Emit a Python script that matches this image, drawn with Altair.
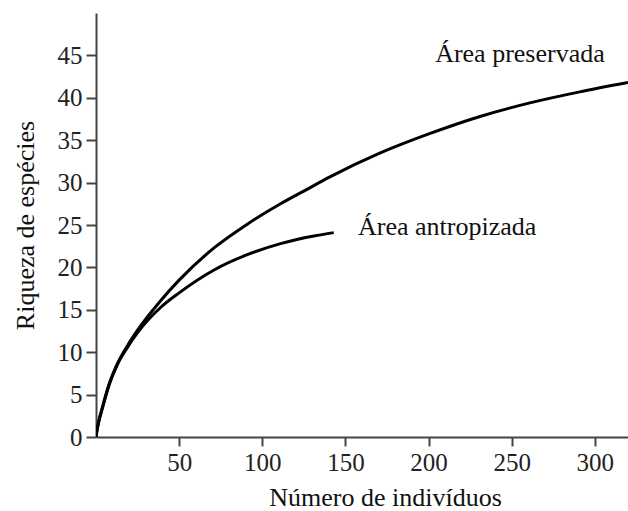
import altair as alt
import pandas as pd

# Curve readings (número de indivíduos, riqueza de espécies)
pres_x = [0, 1, 4, 8, 13, 19, 25, 39, 50, 71, 91, 111, 125, 141, 171, 201, 231, 261, 291, 320]
pres_y = [0, 1.2, 3.6, 6.3, 8.7, 10.8, 12.6, 16.1, 18.5, 22.3, 25.1, 27.5, 29.0, 30.7, 33.5, 35.8, 37.8, 39.4, 40.7, 41.8]
antr_x = [0, 1, 4, 8, 13, 19, 25, 39, 50, 71, 91, 111, 131, 143]
antr_y = [0, 1.2, 3.5, 6.2, 8.6, 10.6, 12.3, 15.3, 17.0, 19.7, 21.5, 22.8, 23.7, 24.1]

label_text = ["Área preservada", "Área antropizada"]
label_x = [204, 157.6]
label_y = [44.2, 23.8]

x_ticks = [50, 100, 150, 200, 250, 300]
y_ticks = [0, 5, 10, 15, 20, 25, 30, 35, 40, 45]

df = pd.concat([
    pd.DataFrame({"x": pres_x, "y": pres_y, "serie": "Área preservada"}),
    pd.DataFrame({"x": antr_x, "y": antr_y, "serie": "Área antropizada"}),
])
labels = pd.DataFrame({"x": label_x, "y": label_y, "t": label_text})

FONT = "Liberation Serif"

xs = alt.Scale(domain=[0, 320], nice=False, zero=False)
ys = alt.Scale(domain=[0, 50], nice=False)

lines = alt.Chart(df).mark_line(color="#000000", strokeWidth=3, interpolate="monotone", clip=True).encode(
    x=alt.X("x:Q", scale=xs, axis=alt.Axis(
        values=x_ticks, title="Número de indivíduos", grid=False,
        domainColor="#444444", domainWidth=2, tickColor="#444444", tickWidth=2, tickSize=9,
        labelFont=FONT, labelFontSize=25, labelColor="#222222", labelBaseline="alphabetic",
        labelPadding=24, labelFlush=False,
        titleFont=FONT, titleFontSize=26, titleFontWeight="normal", titleColor="#111111",
        titleX=289, titleY=68, titleBaseline="alphabetic", titleAnchor="middle")),
    y=alt.Y("y:Q", scale=ys, axis=alt.Axis(
        values=y_ticks, title="Riqueza de espécies", grid=False,
        domainColor="#444444", domainWidth=2, tickColor="#444444", tickWidth=2, tickSize=10,
        labelFont=FONT, labelFontSize=25, labelColor="#222222", labelPadding=4,
        titleFont=FONT, titleFontSize=26, titleFontWeight="normal", titleColor="#111111",
        titlePadding=19)),
    detail="serie:N",
)

texts = alt.Chart(labels).mark_text(align="left", baseline="alphabetic", font=FONT, fontSize=26, color="#111111").encode(
    x=alt.X("x:Q", scale=xs),
    y=alt.Y("y:Q", scale=ys),
    text="t:N",
)

chart = (lines + texts).properties(
    width=532, height=424,
    autosize=alt.AutoSizeParams(type="none"),
    padding={"left": 96, "top": 13, "right": 0, "bottom": 74},
    background="white",
).configure_view(stroke=None)

chart.save("out.html", embed_options={"renderer": "svg", "actions": False})
